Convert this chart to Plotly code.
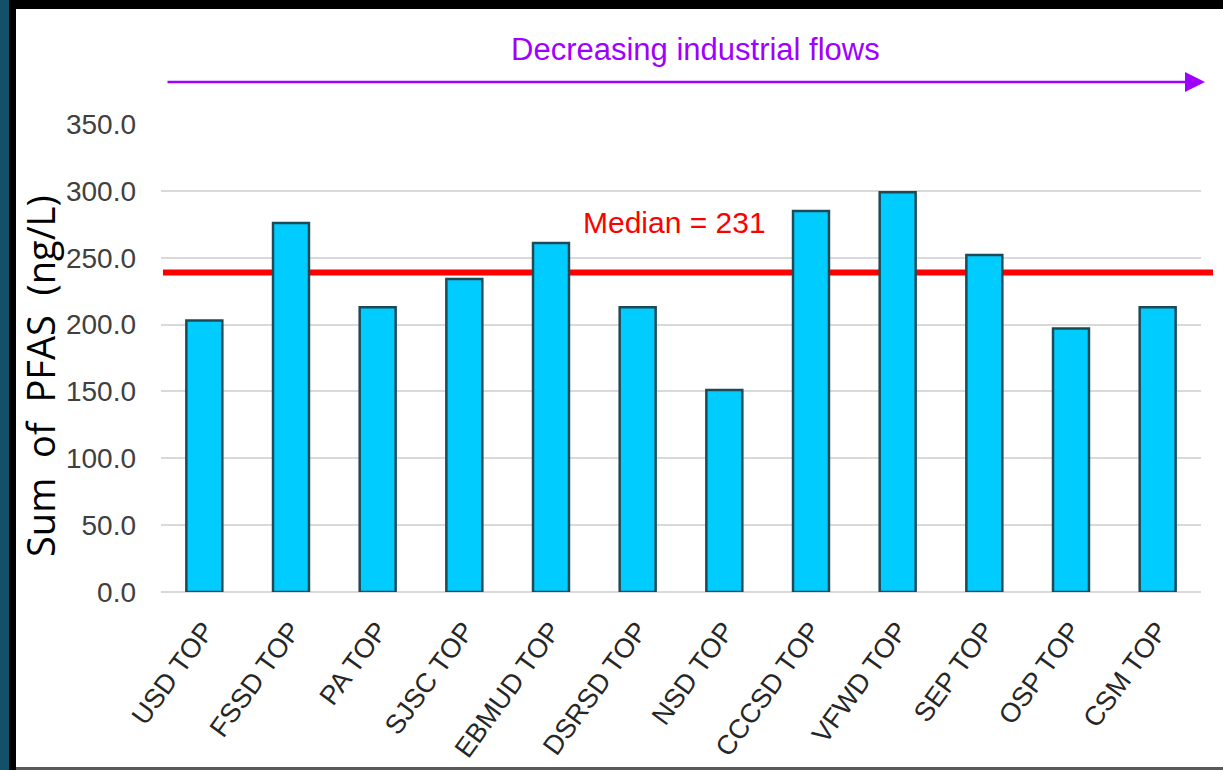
import plotly.graph_objects as go

categories = ["USD TOP", "FSSD TOP", "PA TOP", "SJSC TOP", "EBMUD TOP", "DSRSD TOP",
              "NSD TOP", "CCCSD TOP", "VFWD TOP", "SEP TOP", "OSP TOP", "CSM TOP"]
sum_pfas = [203, 276, 213, 234, 261, 213, 151, 285, 299, 252, 197, 213]
median_line_value = 239
median_label = "Median = 231"
y_ticks = [0, 50, 100, 150, 200, 250, 300, 350]

W, H = 1223, 770
L, R, T, B = 161, 22, 124, 178
PW, PH = W - L - R, H - T - B

def px(x):
    return (x - L) / PW

def py(y):
    return (H - B - y) / PH

SANS = "Liberation Sans, Arial, sans-serif"

fig = go.Figure()
fig.add_trace(go.Bar(
    x=categories, y=sum_pfas,
    marker=dict(color="#00CCFF", line=dict(color="#1E4A58", width=2.5)),
    width=0.415,
))

shapes = [
    dict(type="line", xref="paper", yref="y", x0=px(163), x1=px(1213),
         y0=median_line_value, y1=median_line_value,
         line=dict(color="#FF0000", width=6), layer="between"),
    dict(type="rect", xref="paper", yref="paper", x0=px(0), x1=px(9), y0=py(H), y1=py(0),
         fillcolor="#15506B", line=dict(width=0), layer="above"),
    dict(type="rect", xref="paper", yref="paper", x0=px(9), x1=px(16), y0=py(H), y1=py(0),
         fillcolor="#000000", line=dict(width=0), layer="above"),
    dict(type="rect", xref="paper", yref="paper", x0=px(9), x1=px(W), y0=py(9), y1=py(0),
         fillcolor="#000000", line=dict(width=0), layer="above"),
    dict(type="rect", xref="paper", yref="paper", x0=px(16), x1=px(W), y0=py(H), y1=py(767),
         fillcolor="#5A5A5A", line=dict(width=0), layer="above"),
]

annotations = [
    dict(text=median_label, xref="paper", yref="paper", x=px(674), y=py(222),
         showarrow=False, font=dict(family=SANS, size=30, color="#FF0000"),
         xanchor="center", yanchor="middle"),
    dict(text="Decreasing industrial flows", xref="paper", yref="paper", x=px(695), y=py(50),
         showarrow=False, font=dict(family=SANS, size=31, color="#9F00FF"),
         xanchor="center", yanchor="middle"),
    dict(text="", xref="paper", yref="paper", x=px(1205), y=py(82),
         ax=-(1205 - 166), ay=0, axref="pixel", ayref="pixel",
         showarrow=True, arrowhead=2, arrowsize=1.6, arrowwidth=2.5, arrowcolor="#A000FF"),
    dict(text="Sum\u00a0\u00a0of\u00a0\u00a0PFAS\u00a0\u00a0(ng/L)", xref="paper", yref="paper",
         x=px(40), y=py(376), textangle=-90, showarrow=False,
         font=dict(family="Open Sans, Noto Sans, sans-serif", size=38, color="#000000"),
         xanchor="center", yanchor="middle"),
]

fig.update_layout(
    width=W, height=H,
    margin=dict(l=L, r=R, t=T, b=B, pad=0, autoexpand=False),
    paper_bgcolor="#FFFFFF", plot_bgcolor="#FFFFFF",
    showlegend=False,
    bargap=0.585,
    shapes=shapes,
    annotations=annotations,
    xaxis=dict(
        type="category", tickangle=-54, automargin=False,
        tickfont=dict(family=SANS, size=27, color="#262626"),
        showgrid=False, showline=False, zeroline=False, ticks="",
        ticklabelstandoff=16,
    ),
    yaxis=dict(
        range=[0, 350], tickvals=y_ticks, tickformat=".1f", automargin=False,
        tickfont=dict(family=SANS, size=28, color="#404040"),
        showgrid=True, gridcolor="#D9D9D9", gridwidth=2,
        zeroline=True, zerolinecolor="#D9D9D9", zerolinewidth=2,
        showline=False, ticks="", ticklabelstandoff=24,
    ),
)

fig.write_html("out.html")
